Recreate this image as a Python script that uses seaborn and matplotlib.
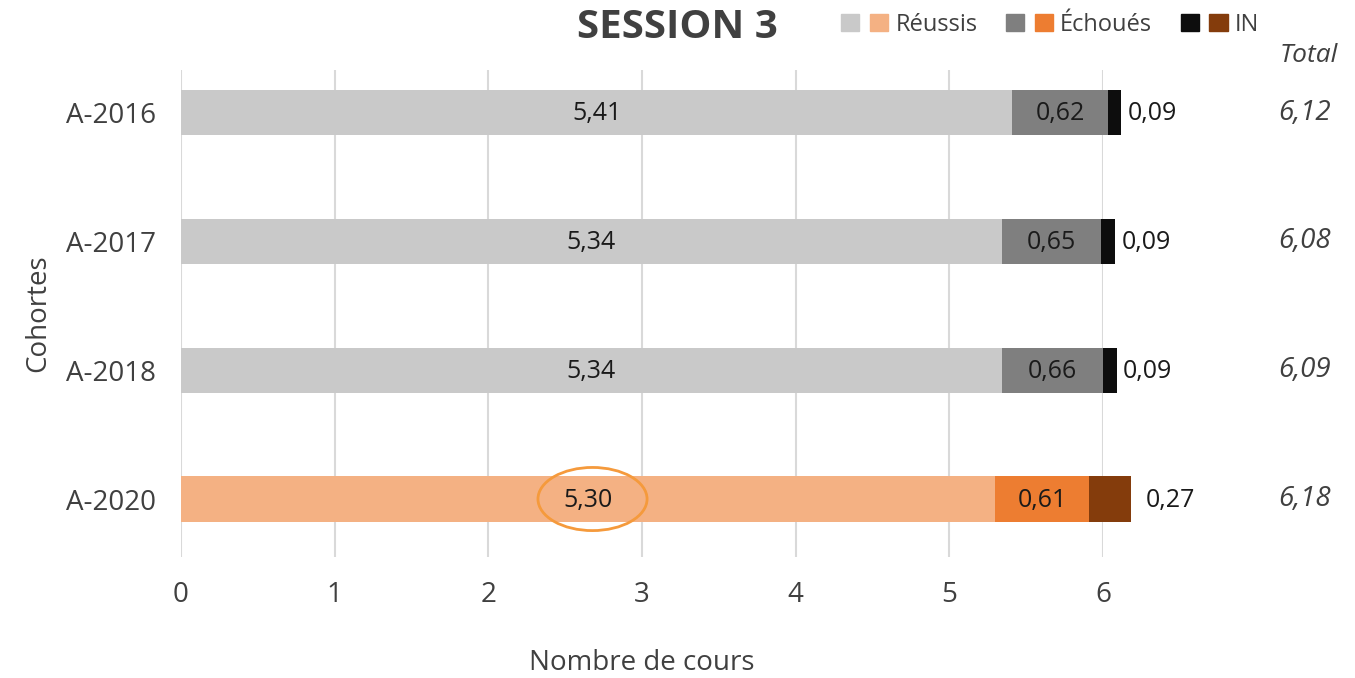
import numpy as np
import pandas as pd
import matplotlib
matplotlib.use("Agg")
import matplotlib.pyplot as plt
import seaborn as sns
from matplotlib.patches import Patch, Ellipse
from matplotlib.legend_handler import HandlerTuple
from matplotlib.transforms import blended_transform_factory

# donnees
cohortes = ["A-2016", "A-2017", "A-2018", "A-2020"]
reussis = [5.41, 5.34, 5.34, 5.30]
echoues = [0.62, 0.65, 0.66, 0.61]
inc = [0.09, 0.09, 0.09, 0.27]
totaux = [6.12, 6.08, 6.09, 6.18]

# couleurs: anciennes cohortes en gris, A-2020 en orange
col_reussis = ["#c9c9c9", "#c9c9c9", "#c9c9c9", "#f4b183"]
col_echoues = ["#7f7f7f", "#7f7f7f", "#7f7f7f", "#ed7d31"]
col_in = ["#0d0d0d", "#0d0d0d", "#0d0d0d", "#843c0c"]

sns.set_style("white")
plt.rcParams['font.family'] = ['Open Sans', 'DejaVu Sans']
txt_col = "#404040"

df = pd.DataFrame({"Cohorte": cohortes, "Reussis": reussis,
                   "Echoues": echoues, "IN": inc})
df["cum2"] = df["Reussis"] + df["Echoues"]
df["cum3"] = df["cum2"] + df["IN"]

fig = plt.figure(figsize=(13.55, 6.78), dpi=100)
ax = fig.add_axes([181/1355, 1-557/678, (1103-181)/1355, (557-70)/678])

# barres empilees: on dessine les cumuls du plus long au plus court
for col, pal in [("cum3", col_in), ("cum2", col_echoues), ("Reussis", col_reussis)]:
    sns.barplot(data=df, x=col, y="Cohorte", hue="Cohorte", palette=pal,
                dodge=False, legend=False, width=0.35, linewidth=0,
                saturation=1, orient="h", ax=ax)

for p in ax.patches:
    p.set_clip_on(False)

ax.set_xlim(0, 6)
ax.set_ylim(3.45, -0.33)
ax.set_xticks(range(7))
ax.tick_params(axis="both", length=0, labelsize=20, labelcolor=txt_col)
ax.tick_params(axis="x", pad=17)
ax.tick_params(axis="y", pad=18)
ax.grid(axis="x", color="#d9d9d9", linewidth=1.5)
ax.set_axisbelow(True)
for s in ax.spines.values():
    s.set_visible(False)
ax.set_xlabel("Nombre de cours", fontsize=20, color=txt_col, labelpad=29)
ax.set_ylabel("Cohortes", fontsize=20, color=txt_col, labelpad=10)

# etiquettes
for i in range(len(cohortes)):
    ax.text(reussis[i] / 2, i + 0.01, f"{reussis[i]:.2f}".replace(".", ","),
            ha="center", va="center", fontsize=18, color="#1a1a1a")
    ax.text(reussis[i] + echoues[i] / 2, i + 0.01, f"{echoues[i]:.2f}".replace(".", ","),
            ha="center", va="center", fontsize=18, color="#1a1a1a")
    off = 0.04 if i < 3 else 0.1
    ax.text(df["cum3"][i] + off, i + 0.01, f"{inc[i]:.2f}".replace(".", ","),
            ha="left", va="center", fontsize=18, color="#1a1a1a", clip_on=False)

tr = blended_transform_factory(fig.transFigure, ax.transData)
for i, t in enumerate(totaux):
    ax.text(0.982, i, f"{t:.2f}".replace(".", ","), transform=tr, ha="right",
            va="center", fontsize=20, style="italic", color=txt_col)
fig.text(0.987, 1-55/678, "Total", ha="right", va="center", fontsize=19,
         style="italic", color=txt_col)

# cercle autour de 5,30
ax.add_patch(Ellipse((2.678, 3), 0.71, 0.49, fill=False, edgecolor="#f59a3c",
                     linewidth=2, clip_on=False))

fig.text(0.5, 1-28/678, "SESSION 3", ha="center", va="center", fontsize=29,
         fontweight="bold", color=txt_col)

handles = [(Patch(color="#c9c9c9"), Patch(color="#f4b183")),
           (Patch(color="#7f7f7f"), Patch(color="#ed7d31")),
           (Patch(color="#0d0d0d"), Patch(color="#843c0c"))]
fig.legend(handles, ["Réussis", "Échoués", "IN"], ncol=3, frameon=False,
           loc="center left", bbox_to_anchor=(0.605, 1-25/678),
           handler_map={tuple: HandlerTuple(ndivide=None, pad=0.45)},
           handlelength=2.0, handleheight=0.75, handletextpad=0.3,
           columnspacing=1.2, fontsize=17, labelcolor=txt_col)

fig.savefig("out.png", dpi=100)
